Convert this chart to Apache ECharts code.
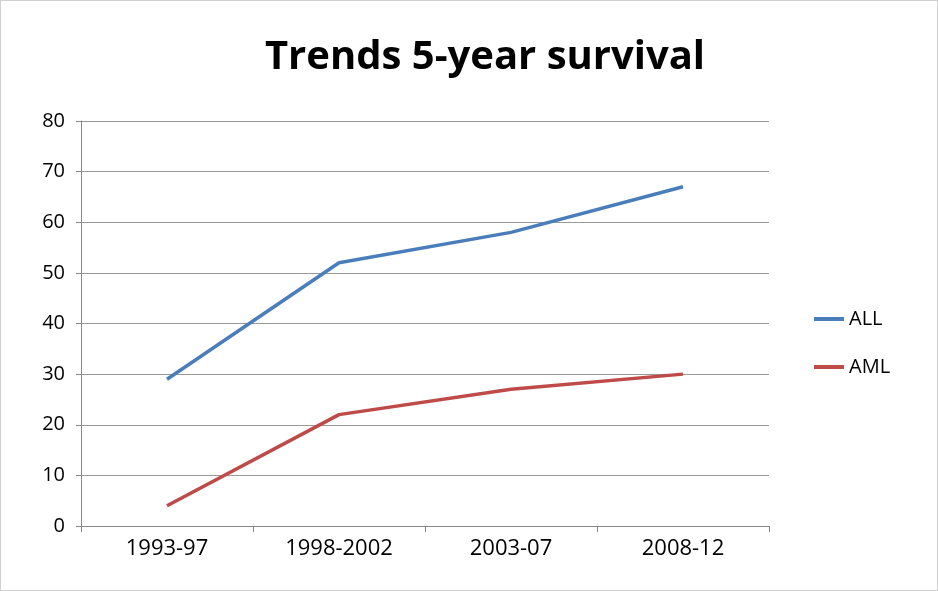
<!DOCTYPE html>
<html>
<head>
<meta charset="utf-8">
<script src="https://cdn.jsdelivr.net/npm/echarts@6/dist/echarts.min.js"></script>
<style>
html,body{margin:0;padding:0;background:#fff;}
#main{width:938px;height:591px;box-sizing:border-box;border:1px solid #d0d0d0;}
</style>
</head>
<body>
<div id="main"></div>
<script>
//数据
var categories = ["1993-97", "1998-2002", "2003-07", "2008-12"];
var allData = [29, 52, 58, 67];
var amlData = [4, 22, 27, 30];
var yTicks = [0, 10, 20, 30, 40, 50, 60, 70, 80];

var myChart = echarts.init(document.getElementById("main"));
var font = "'Open Sans', 'Liberation Sans', sans-serif";

var option = {
    animation: false,
    title: {
        text: "Trends 5-year survival",
        left: 479, top: 32, textAlign: "center",
        textStyle: {fontFamily: font, fontSize: 40, fontWeight: "bold", color: "#000"}
    },
    legend: {
        orient: "vertical", left: 808, top: 303, itemGap: 28,
        itemWidth: 30, itemHeight: 4, icon: "rect",
        textStyle: {fontFamily: font, fontSize: 20, color: "#000"},
        data: ["ALL", "AML"]
    },
    grid: {left: 80, right: 168, top: 120, bottom: 64},
    xAxis: {
        type: "category", data: categories, boundaryGap: true,
        axisLine: {lineStyle: {color: "#888", width: 1}},
        axisTick: {show: true, length: 6, lineStyle: {color: "#888"}},
        axisLabel: {fontFamily: font, fontSize: 22, color: "#000", margin: 12}
    },
    yAxis: {
        type: "value", min: yTicks[0], max: yTicks[yTicks.length - 1], interval: 10,
        axisLine: {show: true, lineStyle: {color: "#888"}},
        axisTick: {show: true, length: 5, lineStyle: {color: "#888"}},
        splitLine: {lineStyle: {color: "#999", width: 1}},
        axisLabel: {fontFamily: font, fontSize: 20, color: "#000", margin: 16}
    },
    series: [
        {name: "ALL", type: "line", data: allData, symbol: "none",
         lineStyle: {color: "#4a7ebb", width: 3.5}, itemStyle: {color: "#4a7ebb"}},
        {name: "AML", type: "line", data: amlData, symbol: "none",
         lineStyle: {color: "#be4b48", width: 3.5}, itemStyle: {color: "#be4b48"}}
    ]
};
myChart.setOption(option);
</script>
</body>
</html>
